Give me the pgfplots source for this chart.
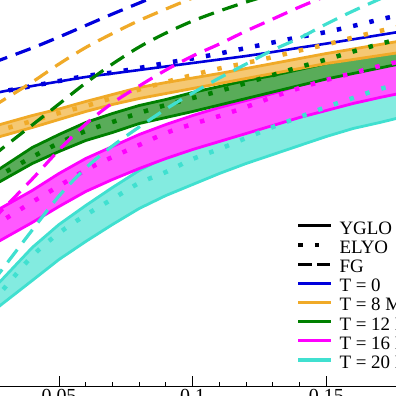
\documentclass[border=0pt]{standalone}
\usepackage{pgfplots}
\pgfplotsset{compat=1.18}
\usepackage{fontspec}
\setmainfont{Liberation Serif}
\definecolor{cB}{RGB}{0,0,220}
\definecolor{cO}{RGB}{240,170,40}
\definecolor{cG}{RGB}{0,128,0}
\definecolor{cM}{RGB}{255,0,255}
\definecolor{cC}{RGB}{64,224,208}
\tikzset{
  yglo/.style={line width=2.6bp},
  elyo/.style={line width=4.5bp, dash pattern=on 4.5bp off 12.2bp},
  fg/.style={line width=3.2bp, dash pattern=on 16bp off 9bp},
  fgleg/.style={line width=3bp, dash pattern=on 13.5bp off 5bp},
  band/.style={line width=2.8bp, draw=#1, fill=#1!65!white},
}
\begin{document}
\begin{tikzpicture}
\begin{axis}[
  scale only axis,
  width=427.73bp, height=400bp,
  xmin=0.02, xmax=0.18, ymin=0, ymax=40,
  axis x line*=bottom, axis y line=none,
  xtick={0.05,0.1,0.15}, xticklabels={0.05,0.1,0.15},
  minor x tick num=4,
  tick align=inside,
  major tick length=10bp, minor tick length=4.5bp,
  every tick/.style={black, line width=0.9bp},
  axis line style={line width=1bp},
  tick label style={font=\fontsize{20}{20}\selectfont},
  legend style={draw=none, fill=none, inner sep=0pt, outer sep=0pt,
    at={(axis cs:0.13866,16.5)}, anchor=north west,
    font=\fontsize{19}{19}\selectfont, row sep=0pt, column sep=6bp,
    nodes={inner sep=0pt, text height=13bp, text depth=6.2bp}},
  legend cell align=left,
  legend image code/.code={\draw[#1] (0bp,5bp) -- (33bp,5bp);},
]
\addlegendimage{black, yglo}\addlegendentry{YGLO}
\addlegendimage{black, elyo}\addlegendentry{ELYO}
\addlegendimage{black, fgleg}\addlegendentry{FG}
\addlegendimage{cB, line width=3.2bp}\addlegendentry{T = 0}
\addlegendimage{cO, line width=3.2bp}\addlegendentry{T = 8 MeV}
\addlegendimage{cG, line width=3.2bp}\addlegendentry{T = 12 MeV}
\addlegendimage{cM, line width=3.2bp}\addlegendentry{T = 16 MeV}
\addlegendimage{cC, line width=3.2bp}\addlegendentry{T = 20 MeV}

% YGLO bands
\addplot[band=cC, forget plot] coordinates {
(0.025,9.6)(0.028,10.45)(0.04,13.85)(0.05,16.15)(0.06,18.05)(0.07,19.85)(0.08,21.55)(0.09,22.95)(0.10,24.25)(0.11,25.35)(0.12,26.35)(0.13,27.25)(0.14,28.15)(0.15,28.95)(0.16,29.65)(0.17,30.35)(0.18,31.0)
(0.18,27.0)(0.17,26.35)(0.16,25.75)(0.15,24.95)(0.14,24.05)(0.13,23.15)(0.12,22.25)(0.11,21.25)(0.10,20.15)(0.09,19.05)(0.08,17.75)(0.07,16.15)(0.06,14.45)(0.05,12.65)(0.04,10.55)(0.028,8.05)(0.025,7.4)
} -- cycle;
\addplot[band=cM, forget plot] coordinates {
(0.025,17.3)(0.028,17.75)(0.04,19.55)(0.05,21.25)(0.06,22.75)(0.07,23.95)(0.08,25.15)(0.09,26.15)(0.10,27.05)(0.11,27.85)(0.12,28.55)(0.13,29.25)(0.14,30.05)(0.15,30.75)(0.16,31.45)(0.17,32.15)(0.18,32.8)
(0.18,29.4)(0.17,28.85)(0.16,28.25)(0.15,27.55)(0.14,26.85)(0.13,26.05)(0.12,25.25)(0.11,24.45)(0.10,23.65)(0.09,22.75)(0.08,21.75)(0.07,20.65)(0.06,19.45)(0.05,17.95)(0.04,16.35)(0.028,14.55)(0.025,14.1)
} -- cycle;
\addplot[band=cG, forget plot] coordinates {
(0.025,21.2)(0.028,21.75)(0.04,23.85)(0.05,25.15)(0.06,26.35)(0.07,27.25)(0.08,28.05)(0.09,28.65)(0.10,29.35)(0.11,29.95)(0.12,30.55)(0.13,31.05)(0.14,31.65)(0.15,32.25)(0.16,32.75)(0.17,33.35)(0.18,33.9)
(0.18,32.35)(0.17,31.8)(0.16,31.25)(0.15,30.7)(0.14,30.05)(0.13,29.4)(0.12,28.75)(0.11,28.1)(0.10,27.45)(0.09,26.85)(0.08,26.25)(0.07,25.35)(0.06,24.55)(0.05,23.45)(0.04,22.25)(0.028,20.45)(0.025,20.0)
} -- cycle;
\addplot[band=cO, forget plot] coordinates {
(0.025,25.9)(0.028,26.15)(0.04,27.05)(0.05,27.7)(0.06,28.45)(0.07,29.15)(0.08,29.85)(0.09,30.35)(0.10,30.8)(0.11,31.25)(0.12,31.75)(0.13,32.25)(0.14,32.75)(0.15,33.25)(0.16,33.7)(0.17,34.15)(0.18,34.6)
(0.18,33.45)(0.17,33.05)(0.16,32.65)(0.15,32.25)(0.14,31.75)(0.13,31.25)(0.12,30.75)(0.11,30.25)(0.10,29.75)(0.09,29.25)(0.08,28.75)(0.07,28.15)(0.06,27.45)(0.05,26.65)(0.04,25.85)(0.028,24.95)(0.025,24.7)
} -- cycle;

% YGLO T=0
\addplot[cB, yglo, smooth, forget plot] coordinates {
(0.025,29.2)(0.028,29.4)(0.04,30.0)(0.05,30.45)(0.06,30.9)(0.07,31.25)(0.08,31.6)(0.09,31.95)(0.10,32.3)(0.11,32.65)(0.12,33.0)(0.13,33.4)(0.14,33.83)(0.15,34.24)(0.16,34.67)(0.17,35.1)(0.18,35.53)};

% ELYO
\addplot[cC, elyo, smooth, forget plot] coordinates {
(0.025,8.4)(0.028,9.3)(0.04,13.0)(0.05,15.3)(0.06,17.1)(0.07,18.7)(0.08,20.3)(0.09,21.4)(0.10,22.7)(0.11,23.7)(0.12,24.8)(0.13,25.9)(0.14,26.9)(0.15,27.9)(0.16,28.8)(0.17,29.7)(0.18,30.3)};
\addplot[cM, elyo, smooth, forget plot] coordinates {
(0.025,15.9)(0.028,16.4)(0.04,18.4)(0.05,20.0)(0.06,21.6)(0.07,22.9)(0.08,24.1)(0.09,25.3)(0.10,26.2)(0.11,27.0)(0.12,27.9)(0.13,28.9)(0.14,29.8)(0.15,30.6)(0.16,31.3)(0.17,32.0)(0.18,32.6)};
\addplot[cG, elyo, smooth, forget plot] coordinates {
(0.025,20.6)(0.028,21.1)(0.04,22.9)(0.05,24.3)(0.06,25.5)(0.07,26.4)(0.08,27.3)(0.09,28.1)(0.10,28.8)(0.11,29.5)(0.12,30.3)(0.13,31.1)(0.14,31.9)(0.15,32.65)(0.16,33.45)(0.17,34.2)(0.18,34.9)};
\addplot[cO, elyo, smooth, forget plot] coordinates {
(0.025,25.4)(0.028,25.6)(0.04,26.5)(0.05,27.3)(0.06,28.0)(0.07,28.8)(0.08,29.65)(0.09,30.4)(0.10,31.1)(0.11,31.75)(0.12,32.3)(0.13,32.9)(0.14,33.55)(0.15,34.15)(0.16,34.85)(0.17,35.5)(0.18,36.1)};
\addplot[cB, elyo, smooth, forget plot] coordinates {
(0.025,29.2)(0.028,29.4)(0.04,30.0)(0.05,30.5)(0.06,31.0)(0.07,31.35)(0.08,31.8)(0.09,32.3)(0.10,32.75)(0.11,33.25)(0.12,33.8)(0.13,34.35)(0.14,34.9)(0.15,35.4)(0.16,36.0)(0.17,36.65)(0.18,37.25)};

% FG
\addplot[cC, fg, smooth, forget plot] coordinates {
(0.025,10.4)(0.028,11.4)(0.04,15.6)(0.05,19.0)(0.06,21.8)(0.07,24.0)(0.08,25.9)(0.09,27.7)(0.10,29.3)(0.11,30.8)(0.12,32.2)(0.13,33.6)(0.14,34.8)(0.15,36.2)(0.16,37.5)(0.17,38.7)(0.18,39.9)};
\addplot[cM, fg, smooth, forget plot] coordinates {
(0.025,16.5)(0.028,17.4)(0.04,20.7)(0.05,23.6)(0.06,26.2)(0.07,28.3)(0.08,30.0)(0.09,31.6)(0.10,33.0)(0.11,34.2)(0.12,35.5)(0.13,36.7)(0.14,37.9)(0.15,39.0)(0.16,40.0)};
\addplot[cG, fg, smooth, forget plot] coordinates {
(0.025,22.9)(0.028,23.6)(0.04,26.1)(0.05,28.2)(0.06,30.3)(0.07,32.2)(0.08,33.9)(0.09,35.3)(0.10,36.5)(0.11,37.5)(0.12,38.4)(0.13,39.2)(0.14,40.0)};
\addplot[cO, fg, smooth, forget plot] coordinates {
(0.025,27.9)(0.028,28.4)(0.04,30.4)(0.05,32.2)(0.06,33.85)(0.07,35.25)(0.08,36.55)(0.09,37.7)(0.10,38.8)(0.11,39.8)(0.12,40.7)};
\addplot[cB, fg, smooth, forget plot] coordinates {
(0.025,32.3)(0.028,32.6)(0.04,33.8)(0.05,34.9)(0.06,36.05)(0.07,37.2)(0.08,38.3)(0.09,39.4)(0.10,40.4)(0.11,41.4)};

\coordinate (bl) at (axis cs:0.027930,-1.0);
\coordinate (tr) at (axis cs:0.176061,38.6);
\end{axis}
\pgfresetboundingbox
\useasboundingbox (bl) rectangle (tr);
\end{tikzpicture}
\end{document}
